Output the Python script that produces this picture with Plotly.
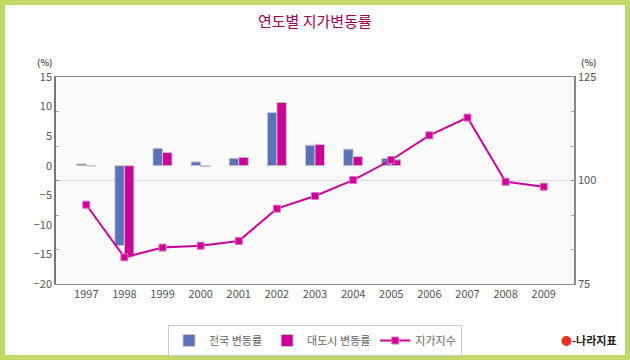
import plotly.graph_objects as go

years = ["1997", "1998", "1999", "2000", "2001", "2002", "2003", "2004", "2005",
         "2006", "2007", "2008", "2009"]
national_rate = [0.3, -13.5, 2.94, 0.65, 1.25, 9.0, 3.45, 2.8, 1.25, None, None, None, None]
metro_rate = [-0.05, -15.4, 2.25, -0.15, 1.42, 10.7, 3.6, 1.55, 1.0, None, None, None, None]
land_index = [94.15, 81.45, 83.8, 84.25, 85.4, 93.2, 96.25, 100.1, 104.95,
              110.9, 115.2, 99.7, 98.5]
left_ticks = [15, 10, 5, 0, -5, -10, -15, -20]
right_ticks = [75, 100, 125]

BLUE = "#5b72b8"
MAG = "#cc0099"
FONT = "Noto Sans CJK KR"

fig = go.Figure()
fig.add_trace(go.Bar(x=years, y=national_rate, name="전국 변동률",
                     marker=dict(color=BLUE, line=dict(color="#c8c8c8", width=1))))
fig.add_trace(go.Bar(x=years, y=metro_rate, name="대도시 변동률",
                     marker=dict(color=MAG, line=dict(color="#c8c8c8", width=1))))
fig.add_trace(go.Scatter(x=years, y=land_index, name="지가지수", yaxis="y2",
                         mode="lines+markers",
                         line=dict(color=MAG, width=2),
                         marker=dict(symbol="square", size=7, color=MAG,
                                     line=dict(color="#e070c0", width=1))))

# plot area in pixels: x 56..574, y 77..284
L, R, T, B = 56, 574, 77, 284
W, H = R - L, B - T

def px(x):
    return (x - L) / W

def py(y):
    return (B - y) / H

fig.update_layout(
    width=630, height=360,
    margin=dict(l=L, r=630 - R, t=T, b=360 - B, autoexpand=False),
    paper_bgcolor="white",
    plot_bgcolor="#fafafa",
    font=dict(family=FONT, size=11, color="#555555"),
    barmode="group", bargap=0.5, bargroupgap=0,
    showlegend=True,
    legend=dict(orientation="h", x=0.5, xanchor="center", y=py(325), yanchor="top",
                bordercolor="#cccccc", borderwidth=1, bgcolor="white",
                font=dict(size=11, color="#666666"), itemwidth=30,
                tracegroupgap=0),
    xaxis=dict(type="category", showline=True, linecolor="#888888", linewidth=1,
               mirror=True, ticks="", showgrid=False,
               tickfont=dict(size=11, color="#555555")),
    yaxis=dict(range=[-20, 15], tickvals=left_ticks, ticks="", showgrid=False,
               zeroline=False, showline=True, linecolor="#777777", linewidth=1.5,
               tickfont=dict(size=11, color="#555555")),
    yaxis2=dict(range=[75, 125], overlaying="y", side="right", tickvals=right_ticks,
                showgrid=True, gridcolor="#dddddd", zeroline=False,
                showline=True, linecolor="#888888", linewidth=1.5,
                ticks="inside", ticklen=3, tickcolor="#888888",
                minor=dict(dtick=50 / 6, tick0=75, ticks="inside", ticklen=3,
                           tickcolor="#aaaaaa", showgrid=False),
                tickfont=dict(size=11, color="#555555")),
    yaxis3=dict(range=[75, 125], overlaying="y", side="left", tickvals=right_ticks,
                showgrid=False, zeroline=False, showline=False, showticklabels=False,
                ticks="inside", ticklen=3, tickcolor="#888888",
                minor=dict(dtick=50 / 6, tick0=75, ticks="inside", ticklen=3,
                           tickcolor="#aaaaaa", showgrid=False)),
)

# invisible trace to activate yaxis3 (tick marks on the left frame)
fig.add_trace(go.Scatter(x=[years[0]], y=[100], yaxis="y3", mode="markers",
                         marker=dict(opacity=0), showlegend=False, hoverinfo="skip"))

# green frame around the whole picture
fig.add_shape(type="rect", xref="paper", yref="paper",
              x0=px(2.5), x1=px(627.5), y0=py(357.5), y1=py(2.5),
              line=dict(color="#c0d966", width=5), layer="above")

fig.add_annotation(text="연도별 지가변동률", xref="paper", yref="paper",
                   x=px(315), y=py(20), xanchor="center", yanchor="middle",
                   showarrow=False,
                   font=dict(family=FONT, size=15, color="#a3004f"))
fig.add_annotation(text="<b>(%)</b>", xref="paper", yref="paper",
                   x=px(44), y=py(63), xanchor="center", yanchor="middle",
                   showarrow=False, font=dict(size=9, color="#555555"))
fig.add_annotation(text="<b>(%)</b>", xref="paper", yref="paper",
                   x=px(588), y=py(63), xanchor="center", yanchor="middle",
                   showarrow=False, font=dict(size=9, color="#555555"))
fig.add_annotation(text="<span style='color:#e8312a'>●</span><b>-나라지표</b>",
                   xref="paper", yref="paper",
                   x=px(619), y=py(340), xanchor="right", yanchor="middle",
                   showarrow=False, font=dict(size=11, color="#222222"))

fig.write_html("out.html", config={"displayModeBar": False},
               post_script="document.body.style.margin='0';document.body.style.overflow='hidden';")
